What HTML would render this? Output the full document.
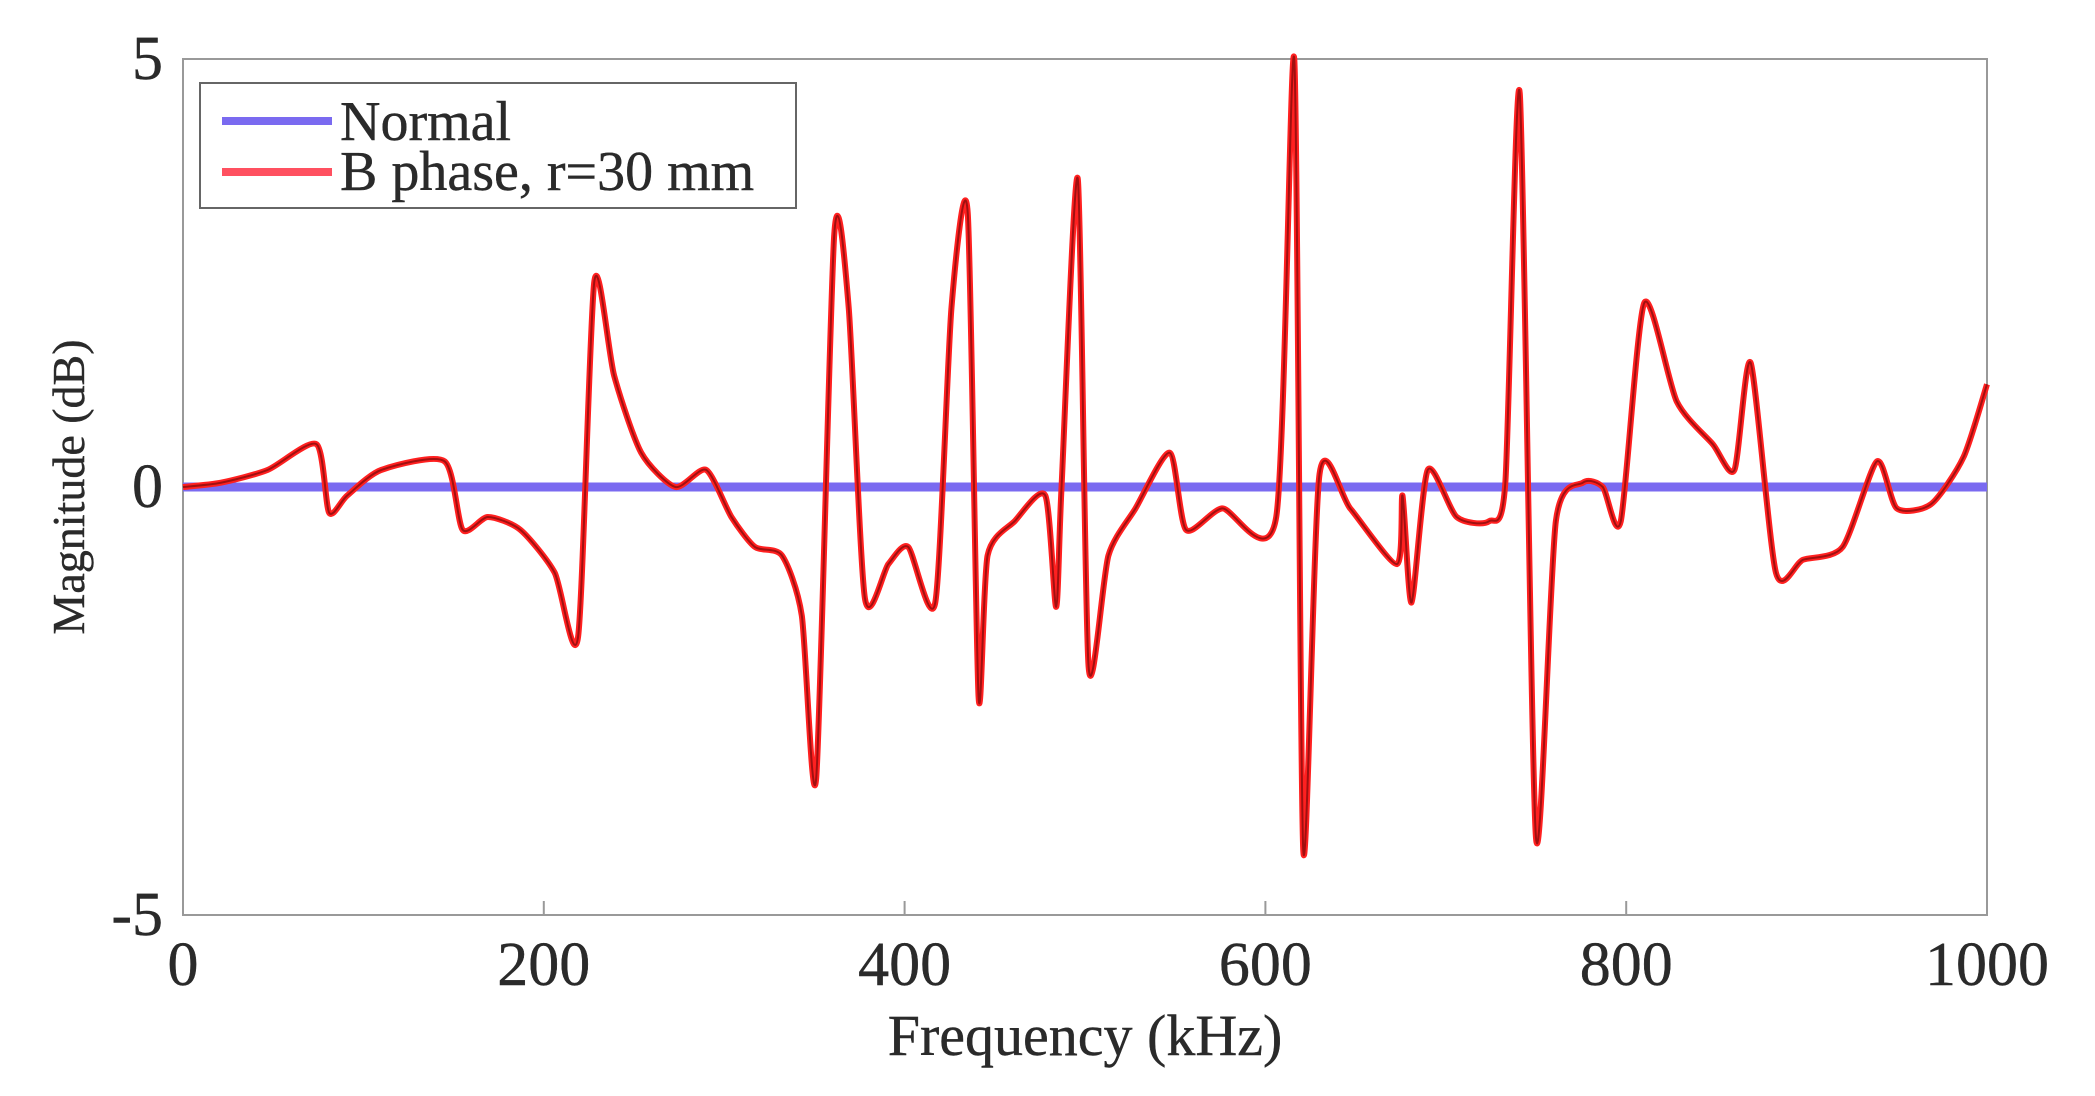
<!DOCTYPE html>
<html><head><meta charset="utf-8"><style>
html,body{margin:0;padding:0;background:#fff;width:2095px;height:1096px;overflow:hidden}
svg text{font-family:"Liberation Serif","DejaVu Serif",serif;fill:#2a2a2a;stroke:#2a2a2a;stroke-width:0.4}
</style></head><body>
<svg id="chart" width="2095" height="1096" viewBox="0 0 2095 1096" xmlns="http://www.w3.org/2000/svg" font-family="Liberation Serif, serif">
<rect x="183" y="59" width="1804" height="856" fill="#fff" stroke="#999" stroke-width="2"/>
<g id="ticks"></g>
<g id="series"></g>
<text x="0" y="0" font-size="46" text-anchor="middle" transform="translate(84,487) rotate(-90)">Magnitude (dB)</text>
<text x="1085" y="1055" font-size="58" text-anchor="middle">Frequency (kHz)</text>
<g>
<rect x="200" y="83" width="596" height="125" fill="#fff" stroke="#666" stroke-width="2"/>
<line x1="222" y1="121" x2="332" y2="121" stroke="#7a6af0" stroke-width="8"/>
<text x="340" y="140" font-size="56">Normal</text>
<line x1="222" y1="172" x2="332" y2="172" stroke="#ff5060" stroke-width="8"/>
<text x="340" y="190" font-size="56">B phase, r=30 mm</text>
</g>
</svg>
<script>
const freqs=[0,21,47,74,81,91,110,145,155,169,187,206,219,228,239,254,273,290,304,317,332,343,351,361,369,378,391,402,417,426,435,441,446,461,478,484,487,496,502,513,528,547,556,576,606,616,621,630,647,673,676,681,690,706,724,733,741,750,761,776,787,797,810,828,848,860,869,883,898,920,939,950,969,987,1000];
const faultMag=[0,0.05,0.2,0.5,-0.3,-0.1,0.2,0.3,-0.5,-0.35,-0.5,-1.0,-1.75,2.4,1.3,0.4,0,0.2,-0.35,-0.7,-0.8,-1.5,-3.4,2.95,2.1,-1.3,-0.9,-0.7,-1.35,2.1,3.2,-2.45,-0.8,-0.4,-0.1,-1.4,0,3.6,-2.1,-0.8,-0.25,0.4,-0.5,-0.25,-0.35,5,-4.25,0.15,-0.25,-0.9,-0.1,-1.35,0.2,-0.35,-0.4,0.05,4.6,-4.1,-0.4,0.05,0,-0.4,2.15,1.0,0.5,0.2,1.45,-1.0,-0.85,-0.7,0.3,-0.25,-0.2,0.35,1.2];
const normalFreqs=[0,1000];
const normalMag=[0,0];
const xTicks=[0,200,400,600,800,1000];
const yTicks=[5,0,-5];
const NS='http://www.w3.org/2000/svg';
const X0=183,X1=1987,Y0=915,Y1=59;
function xs(f){return X0+(f-0)/(1000-0)*(X1-X0);}
function ys(v){return Y0-(v+5)/10*(Y0-Y1);}
const tg=document.getElementById('ticks');
xTicks.forEach(t=>{
 const l=document.createElementNS(NS,'line');
 l.setAttribute('x1',xs(t));l.setAttribute('x2',xs(t));l.setAttribute('y1',Y0);l.setAttribute('y2',Y0-14);
 l.setAttribute('stroke','#999');l.setAttribute('stroke-width','2');
 
 
 tg.appendChild(l);
 const tx=document.createElementNS(NS,'text');
 tx.setAttribute('x',xs(t));tx.setAttribute('y',Y0+70);tx.setAttribute('font-size','62');tx.setAttribute('text-anchor','middle');
 tx.textContent=t;
 
 
 tg.appendChild(tx);
});
yTicks.forEach(t=>{
 const tx=document.createElementNS(NS,'text');
 tx.setAttribute('x',X0-20);tx.setAttribute('y',ys(t)+20);tx.setAttribute('font-size','62');tx.setAttribute('text-anchor','end');
 tx.textContent=t;
 
 
 tg.appendChild(tx);
});
const sg=document.getElementById('series');
function smoothD(pts){
 let d='M'+pts[0][0]+','+pts[0][1];
 for(let i=0;i<pts.length-1;i++){
  const p0=pts[Math.max(0,i-1)],p1=pts[i],p2=pts[i+1],p3=pts[Math.min(pts.length-1,i+2)];
  const t=0.12;
  const c1=[p1[0]+(p2[0]-p0[0])*t,p1[1]+(p2[1]-p0[1])*t];
  const c2=[p2[0]-(p3[0]-p1[0])*t,p2[1]-(p3[1]-p1[1])*t];
  d+=' C'+c1[0]+','+c1[1]+' '+c2[0]+','+c2[1]+' '+p2[0]+','+p2[1];
 }
 return d;
}
function path(fs,vs,color,w,name){
 const p=document.createElementNS(NS,'path');
 p.setAttribute('d',smoothD(fs.map((f,i)=>[xs(f),ys(vs[i])])));
 p.setAttribute('fill','none');p.setAttribute('stroke',color);p.setAttribute('stroke-width',w);p.setAttribute('stroke-linejoin','round');
 
 
 sg.appendChild(p);
}
path(normalFreqs,normalMag,'#7a6af0',9,'normal-line');
path(freqs,faultMag,'#ff2020',6,'b-phase-line');
path(freqs,faultMag,'#a01010',2,'b-phase-line-core');
</script>
</body></html>
